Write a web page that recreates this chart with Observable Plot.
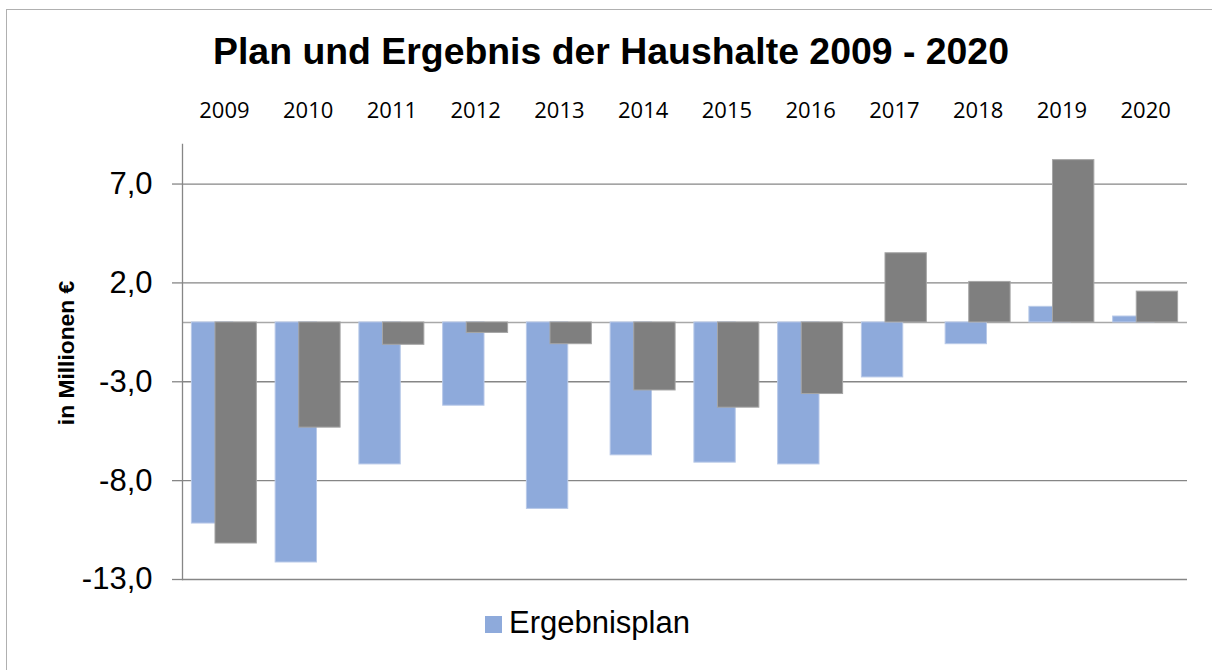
<!DOCTYPE html>
<html>
<head>
<meta charset="utf-8">
<script src="https://cdn.jsdelivr.net/npm/d3@7"></script>
<script src="https://cdn.jsdelivr.net/npm/@observablehq/plot@0.6"></script>
<style>
  body { margin: 0; background: #fff; }
  #wrap { position: relative; width: 1212px; height: 670px; overflow: hidden; background: #fff; }
  #border { position: absolute; left: 6px; top: 9px; width: 1300px; height: 800px; border: 1.5px solid #b0b0b0; box-sizing: border-box; }
  #title { position: absolute; left: 0; top: 33px; width: 1222px; text-align: center; font: bold 37.4px "Liberation Sans", Arial, sans-serif; line-height: 37px; color: #000; white-space: nowrap; }
  #chart { position: absolute; left: 0; top: 0; }
  #ylabel { position: absolute; left: -35px; top: 341px; width: 200px; height: 24px; line-height: 24px; text-align: center; font: bold 22.8px "Liberation Sans", Arial, sans-serif; color: #000; transform: rotate(-90deg); transform-origin: 50% 50%; white-space: nowrap; }
  #legend-swatch { position: absolute; left: 485px; top: 616px; width: 17px; height: 17px; background: #8EAADB; }
  #legend-text { position: absolute; left: 509px; top: 607px; font: 31px "Liberation Sans", Arial, sans-serif; line-height: 31px; color: #000; white-space: nowrap; }
</style>
</head>
<body>
<div id="wrap">
  <div id="border"></div>
  <div id="chart"></div>
  <div id="title">Plan und Ergebnis der Haushalte 2009 - 2020</div>
  <div id="ylabel">in Millionen €</div>
  <div id="legend-swatch"></div>
  <div id="legend-text">Ergebnisplan</div>
</div>
<script>
const years = ["2009","2010","2011","2012","2013","2014","2015","2016","2017","2018","2019","2020"];
const ergebnisplan = [-10.17, -12.14, -7.18, -4.21, -9.43, -6.72, -7.09, -7.18, -2.78, -1.10, 0.79, 0.30];
const ergebnis = [-11.18, -5.32, -1.13, -0.53, -1.10, -3.44, -4.31, -3.62, 3.50, 2.05, 8.21, 1.56];
const yTicks = [-13, -8, -3, 2, 7];

const planRows = years.map((year, i) => ({year, series: "Ergebnisplan", value: ergebnisplan[i]}));
const resultRows = years.map((year, i) => ({year, series: "Ergebnis", value: ergebnis[i]}));

const chart = Plot.plot({
  width: 1212,
  height: 670,
  marginLeft: 182,
  marginRight: 25,
  marginTop: 144,
  marginBottom: 91,
  style: { background: "transparent", color: "#000", overflow: "visible" },
  x: { domain: years, paddingInner: 0.506, paddingOuter: 0.253, round: false, axis: null },
  y: { domain: [-13, 9], axis: null },
  marks: [
    Plot.gridY(yTicks, { stroke: "#868686", strokeOpacity: 1, strokeWidth: 1.3 }),
    Plot.ruleY([0], { stroke: "#a8a8a8", strokeWidth: 1.5 }),
    Plot.barY(planRows, { x: "year", y: "value", fill: "#8EAADB", stroke: "#b8c9e8", strokeWidth: 1, dx: -11.8 }),
    Plot.barY(resultRows, { x: "year", y: "value", fill: "#7F7F7F", stroke: "#a6a6a6", strokeWidth: 1, dx: 11.8 }),
    Plot.frame({ anchor: "left", stroke: "#868686", strokeWidth: 1.3 }),
    Plot.axisY(yTicks, {
      tickSize: 10, tickPadding: 20, stroke: "#868686", strokeWidth: 1.3,
      tickFormat: d => d.toFixed(1).replace(".", ","),
      fontSize: 31, fontFamily: "Liberation Sans, Arial, sans-serif", label: null
    }),
    Plot.axisX({
      anchor: "top", tickSize: 0, tickPadding: 27,
      fontSize: 22, fontFamily: "Open Sans, sans-serif", label: null
    })
  ]
});
document.getElementById("chart").appendChild(chart);
</script>
</body>
</html>
